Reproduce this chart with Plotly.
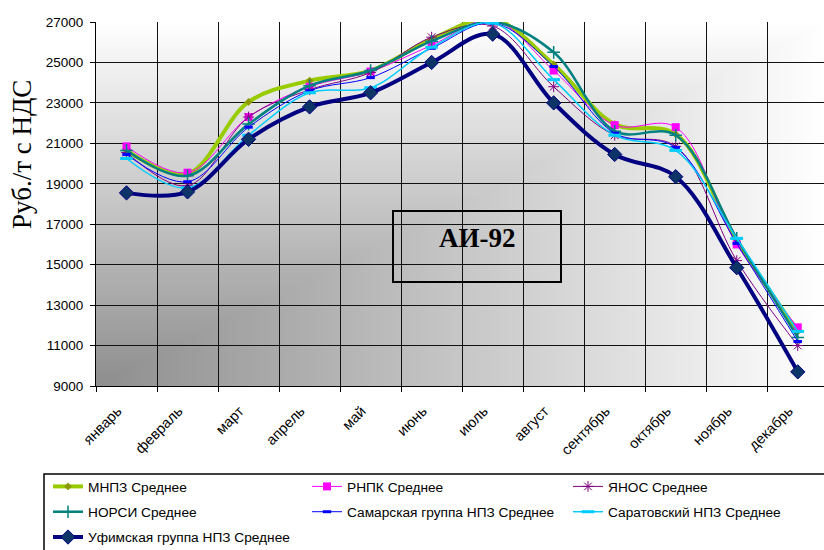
import zlib, struct, base64
import numpy as np
import plotly.graph_objects as go

months = ["январь", "февраль", "март", "апрель", "май", "июнь", "июль",
          "август", "сентябрь", "октябрь", "ноябрь", "декабрь"]

mnpz = [20650, 19500, 23050, 24100, 24600, 26150, 27150, 24900, 21950, 21450, 16200, 11700]
rnpk = [20850, 19550, 22300, 23800, 24550, 25850, 27100, 24600, 21900, 21800, 16000, 11900]
yanos = [20550, 18900, 22300, 23650, 24500, 26250, 26800, 23800, 21400, 20850, 15200, 11000]
norsi = [20650, 19400, 21950, 23850, 24600, 26050, 27000, 25500, 21600, 21400, 16300, 11400]
samara = [20450, 19100, 21800, 23600, 24250, 25700, 26950, 24800, 21500, 20800, 16050, 11200]
saratov = [20250, 18800, 21400, 23500, 23750, 25750, 26950, 24150, 21400, 20650, 16300, 11700]
ufa = [18550, 18600, 21200, 22800, 23500, 25000, 26400, 23000, 20450, 19350, 14850, 9700]

y_ticks = [9000, 11000, 13000, 15000, 17000, 19000, 21000, 23000, 25000, 27000]

# ---- background gradient (dark bottom-left corner -> white) as PNG ----
W, H = 240, 120
xs = np.linspace(0, 1, W)[None, :]
ys = np.linspace(1, 0, H)[:, None]
t = np.maximum(xs, ys)
dark = 143
img = (dark + (255 - dark) * t).clip(0, 255).astype(np.uint8)


def png_gray(arr):
    h, w = arr.shape
    raw = b"".join(b"\x00" + arr[i].tobytes() for i in range(h))

    def chunk(tag, data):
        c = struct.pack(">I", len(data)) + tag + data
        return c + struct.pack(">I", zlib.crc32(tag + data) & 0xFFFFFFFF)

    return (b"\x89PNG\r\n\x1a\n"
            + chunk(b"IHDR", struct.pack(">IIBBBBB", w, h, 8, 0, 0, 0, 0))
            + chunk(b"IDAT", zlib.compress(raw, 9))
            + chunk(b"IEND", b""))


bg_src = "data:image/png;base64," + base64.b64encode(png_gray(img)).decode()

x_idx = list(range(len(months)))

L, T, PW, PH = 96, 22, 728, 364  # plot area in px


def px_x(p):
    return (p - L) / PW


def px_y(p):
    return (T + PH - p) / PH


series = [
    ("МНПЗ Среднее", mnpz, dict(color="#99cc00", width=4),
     dict(symbol="diamond", size=6, color="#8c9a00"), "legend"),
    ("РНПК Среднее", rnpk, dict(color="#ff00ff", width=1),
     dict(symbol="square", size=8, color="#ff00ff"), "legend2"),
    ("ЯНОС Среднее", yanos, dict(color="#800080", width=1),
     dict(symbol="asterisk-open", size=9, color="#800080", line=dict(width=1, color="#800080")), "legend3"),
    ("НОРСИ Среднее", norsi, dict(color="#008080", width=2.5),
     dict(symbol="cross-thin-open", size=9, color="#008080", line=dict(width=1.5, color="#008080")), "legend"),
    ("Самарская группа НПЗ Среднее", samara, dict(color="#0000ff", width=1),
     dict(symbol="line-ew-open", size=6, color="#0000ff", line=dict(width=3, color="#0000ff")), "legend2"),
    ("Саратовский НПЗ Среднее", saratov, dict(color="#00ccff", width=1.5),
     dict(symbol="line-ew-open", size=9, color="#00ccff", line=dict(width=3, color="#00ccff")), "legend3"),
    ("Уфимская группа НПЗ Среднее", ufa, dict(color="#000080", width=4),
     dict(symbol="diamond", size=11, color="#0d3466", line=dict(width=1, color="#000080")), "legend"),
]

fig = go.Figure()
for name, vals, ln, mk, lg in series:
    ln = dict(ln, shape="spline", smoothing=1)
    fig.add_trace(go.Scatter(x=x_idx, y=vals, name=name, mode="lines+markers",
                             line=ln, marker=mk, legend=lg, legendgroup=name))

leg_common = dict(orientation="v", yanchor="top", xanchor="left",
                  bgcolor="rgba(0,0,0,0)", borderwidth=0,
                  traceorder="grouped", tracegroupgap=4.5,
                  font=dict(family="Liberation Sans, Arial, sans-serif", size=13.7, color="black"))

fig.update_layout(
    width=824, height=550,
    margin=dict(l=L, r=0, t=T, b=550 - T - PH, autoexpand=False),
    paper_bgcolor="white",
    plot_bgcolor="white",
    font=dict(family="Liberation Sans, Arial, sans-serif", color="black", size=13),
    showlegend=True,
    legend=dict(leg_common, x=px_x(48), y=px_y(471)),
    legend2=dict(leg_common, x=px_x(307), y=px_y(471)),
    legend3=dict(leg_common, x=px_x(568), y=px_y(471)),
    images=[dict(source=bg_src, xref="paper", yref="paper", x=0, y=1,
                 sizex=1, sizey=1, sizing="stretch", layer="below",
                 xanchor="left", yanchor="top")],
)

fig.update_xaxes(
    range=[-0.5, 11.43],
    tickmode="array", tickvals=x_idx, ticktext=months,
    tickangle=-45, ticks="", showgrid=False,
    tickfont=dict(size=14.5),
    ticklabelstandoff=10, ticklabelshift=-9,
    showline=True, linecolor="black", linewidth=1,
    minor=dict(tickmode="array", tickvals=[i - 0.5 for i in range(13)],
               showgrid=True, gridcolor="#111111", gridwidth=1,
               ticks="outside", ticklen=5, tickcolor="black"),
    zeroline=False, automargin=False,
)

fig.update_yaxes(
    range=[9000, 27000],
    tickmode="array", tickvals=y_ticks, ticktext=[str(v) for v in y_ticks],
    showgrid=True, gridcolor="#111111", gridwidth=1,
    ticks="outside", ticklen=5, tickcolor="black",
    ticklabelstandoff=4,
    tickfont=dict(size=13.5),
    showline=True, linecolor="black", linewidth=1,
    zeroline=False, automargin=False,
)

# legend frame
fig.add_shape(type="rect", xref="paper", yref="paper",
              x0=px_x(44), x1=px_x(860), y0=px_y(600), y1=px_y(474),
              line=dict(color="black", width=1.5), fillcolor="rgba(0,0,0,0)")

# y-axis title
fig.add_annotation(text="Руб./т с НДС", xref="paper", yref="paper",
                   x=px_x(22), y=px_y(155), xanchor="center", yanchor="middle",
                   textangle=-90, showarrow=False,
                   font=dict(family="Liberation Serif, Times New Roman, serif", size=27, color="black"))

# АИ-92 label box
fig.add_shape(type="rect", xref="paper", yref="paper",
              x0=px_x(393), x1=px_x(561), y0=px_y(282), y1=px_y(211),
              line=dict(color="black", width=2), fillcolor="rgba(0,0,0,0)", layer="above")
fig.add_annotation(text="<b>АИ-92</b>", xref="paper", yref="paper",
                   x=px_x(477), y=px_y(238), xanchor="center", yanchor="middle",
                   showarrow=False,
                   font=dict(family="Liberation Serif, Times New Roman, serif", size=27, color="black"))

fig.write_html("out.html", config={"displayModeBar": False},
               post_script="document.body.style.margin='0';")
